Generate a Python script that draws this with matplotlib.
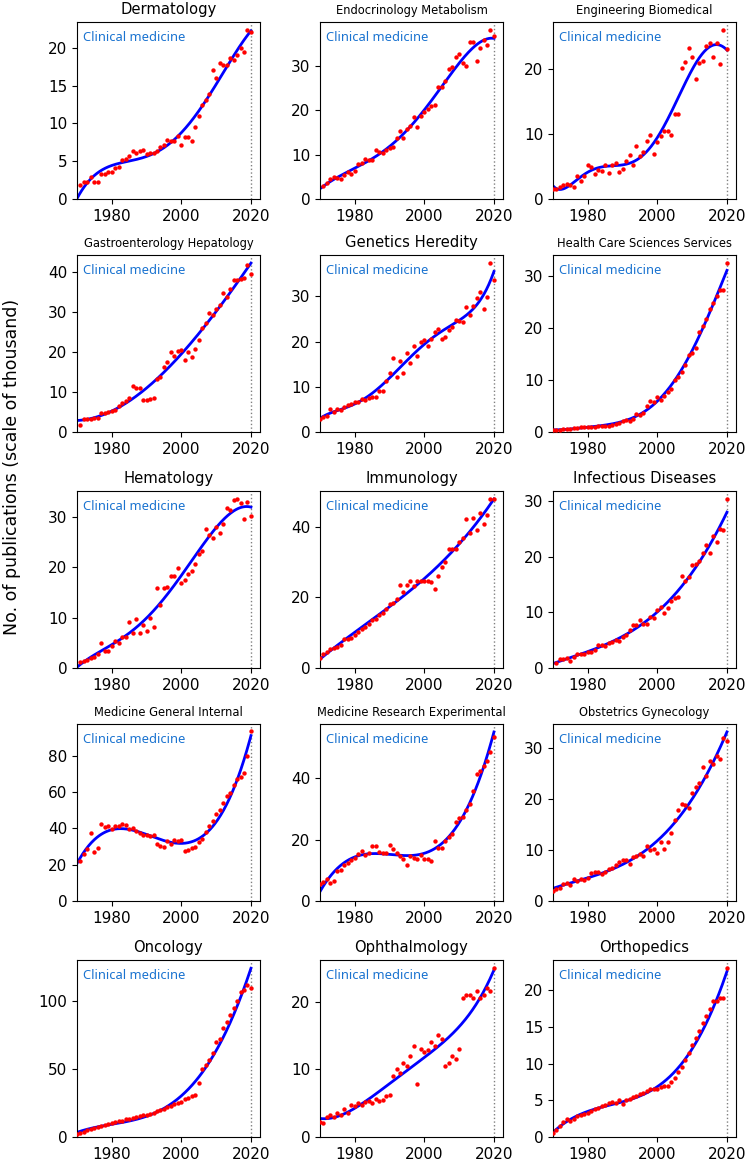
import matplotlib.pyplot as plt
import numpy as np

# publications per year (thousands), last value is 2020
dermatology = [1.9, 2.3, 2.25, 2.9, 2.2, 2.3, 3.3, 3.35, 3.6, 3.6,
               4.05, 4.2, 5.1, 5.3, 5.7, 6.3, 6.1, 6.3, 6.5, 5.9,
               6.1, 6.1, 6.4, 6.9, 7.2, 7.8, 7.7, 7.7, 8.3, 7.1,
               8.2, 8.2, 7.7, 9.5, 11.0, 12.4, 13.1, 13.9, 17.0, 16.0,
               18.0, 17.75, 17.75, 18.6, 18.4, 19.1, 20.0, 19.5, 22.3, 22.1]
endocrinology = [2.85, 3.5, 4.55, 4.85, 4.7, 4.5, 5.3, 6.0, 5.7, 6.2,
                 7.8, 8.1, 8.9, 8.7, 8.8, 11.0, 10.5, 10.3, 11.1, 11.4,
                 11.8, 13.7, 15.3, 13.7, 15.8, 16.5, 18.5, 16.2, 18.7, 19.5,
                 20.2, 21.0, 21.1, 25.1, 25.1, 26.5, 29.2, 29.6, 31.9, 32.6,
                 30.5, 29.9, 35.2, 35.4, 31.0, 34.0, 35.8, 34.6, 38.0, 36.6]
engineering = [1.5, 1.55, 1.85, 2.1, 2.25, 2.1, 1.9, 3.5, 2.8, 3.5,
               5.2, 4.9, 3.9, 4.45, 4.3, 5.3, 4.0, 5.3, 5.6, 4.1,
               4.6, 5.9, 6.8, 5.2, 8.1, 6.65, 7.2, 8.85, 9.9, 6.85,
               8.7, 9.7, 10.4, 10.5, 9.9, 13.0, 13.0, 20.2, 21.0, 23.3,
               21.9, 18.5, 20.95, 21.3, 23.6, 23.95, 21.9, 23.95, 20.8, 26.0,
               23.0]
gastro = [1.65, 3.3, 3.15, 3.3, 3.5, 3.55, 4.8, 4.65, 4.95, 5.2,
          5.55, 6.45, 7.2, 7.85, 8.45, 11.4, 11.0, 10.9, 8.1, 8.1,
          8.3, 8.5, 13.25, 13.8, 16.2, 17.5, 20.1, 19.05, 20.2, 20.45,
          18.0, 20.1, 18.8, 20.7, 22.95, 25.85, 27.1, 29.6, 29.3, 30.65,
          31.8, 34.6, 33.8, 35.8, 37.9, 37.9, 38.1, 38.4, 41.75, 39.35]
genetics = [2.8, 3.25, 3.45, 5.0, 4.4, 5.15, 4.85, 5.5, 5.9, 6.25,
            6.55, 6.6, 7.2, 7.0, 7.5, 7.7, 7.8, 9.1, 9.05, 11.3,
            13.1, 16.3, 12.2, 15.6, 12.95, 17.4, 15.35, 19.1, 16.7, 20.0,
            20.35, 19.1, 20.6, 22.0, 22.8, 20.5, 20.95, 22.5, 23.2, 24.85,
            24.55, 24.25, 27.65, 25.8, 27.8, 29.7, 30.9, 27.1, 29.9, 37.4,
            33.7]
health_care = [0.3, 0.4, 0.45, 0.5, 0.55, 0.6, 0.7, 0.8, 0.9, 0.95,
               1.0, 1.0, 1.05, 1.1, 1.15, 1.15, 1.2, 1.35, 1.55, 1.8,
               2.1, 2.4, 2.1, 2.5, 3.4, 3.2, 3.6, 4.9, 5.9, 5.8,
               6.8, 6.2, 7.0, 7.7, 8.3, 9.9, 10.6, 11.5, 12.9, 14.8,
               15.2, 16.2, 19.3, 20.4, 21.7, 23.6, 24.8, 26.2, 27.3, 27.3,
               32.4]
hematology = [1.2, 1.4, 1.5, 1.9, 2.2, 2.7, 4.9, 3.4, 3.3, 4.3,
              5.3, 4.9, 6.2, 6.1, 9.1, 7.0, 9.7, 7.0, 8.6, 7.4,
              10.0, 8.2, 15.8, 12.5, 15.8, 16.0, 18.2, 18.3, 19.8, 16.8,
              17.4, 18.6, 19.2, 20.6, 22.5, 23.2, 27.6, 26.3, 25.7, 28.0,
              26.7, 28.6, 31.7, 31.3, 33.2, 33.4, 32.6, 29.6, 32.9, 30.2]
immunology = [2.8, 4.1, 4.4, 5.5, 5.8, 6.0, 6.5, 8.2, 8.1, 8.6,
              9.2, 10.1, 11.1, 11.7, 12.4, 13.7, 13.8, 15.1, 15.7, 16.7,
              18.1, 18.5, 19.5, 23.5, 21.5, 23.5, 24.6, 23.1, 24.6, 24.6,
              24.7, 24.7, 24.3, 22.4, 26.0, 28.7, 29.9, 33.6, 33.8, 33.6,
              35.7, 36.7, 42.1, 38.2, 42.5, 39.0, 44.0, 40.8, 43.4, 47.8,
              47.7]
infectious = [0.9, 1.55, 1.55, 1.85, 1.3, 2.0, 2.5, 2.6, 2.6, 2.8,
              2.9, 3.3, 4.1, 4.1, 3.95, 4.55, 4.6, 5.1, 4.85, 5.6,
              5.9, 6.8, 7.7, 7.7, 8.7, 8.0, 8.0, 9.2, 9.0, 10.5,
              11.0, 9.9, 10.8, 12.0, 12.6, 12.75, 16.5, 15.6, 16.4, 18.5,
              18.7, 19.2, 20.7, 22.2, 20.7, 23.8, 22.7, 25.1, 24.8, 30.4]
med_general = [21.9, 26.1, 28.5, 37.3, 27.1, 29.3, 42.2, 40.6, 41.3, 39.5,
               41.3, 41.3, 42.6, 41.7, 39.5, 40.2, 38.4, 37.3, 36.6, 36.4,
               35.6, 36.4, 31.4, 30.3, 30.0, 33.3, 31.3, 33.5, 33.3, 33.5,
               27.6, 28.3, 29.3, 29.6, 32.7, 34.4, 38.0, 41.3, 43.9, 47.9,
               50.1, 53.9, 58.0, 59.4, 63.6, 67.1, 68.0, 70.6, 79.9, 93.8]
med_research = [5.7, 6.2, 7.2, 6.0, 6.65, 9.9, 10.1, 11.6, 12.5, 13.3,
                14.1, 15.4, 16.2, 14.9, 15.8, 17.9, 18.0, 16.0, 15.7, 15.8,
                18.3, 17.1, 15.7, 14.7, 13.7, 11.8, 14.8, 14.1, 13.7, 14.9,
                13.85, 13.7, 13.0, 19.7, 17.4, 17.4, 19.5, 20.9, 21.9, 25.7,
                27.2, 27.5, 29.8, 31.5, 35.8, 41.3, 42.3, 44.2, 45.7, 48.6,
                53.5]
obstetrics = [2.05, 2.3, 2.55, 3.3, 3.5, 3.05, 4.35, 3.85, 4.3, 4.1,
              4.55, 5.45, 5.6, 5.65, 5.2, 5.6, 6.2, 6.5, 7.0, 7.7,
              7.95, 7.95, 7.3, 8.65, 8.75, 9.15, 8.85, 10.7, 9.9, 10.2,
              9.5, 11.65, 10.2, 11.6, 13.25, 15.9, 17.85, 19.0, 18.9, 18.3,
              21.2, 22.3, 23.2, 26.2, 24.5, 27.45, 26.95, 28.4, 27.8, 31.9,
              31.35]
oncology = [2, 3, 4, 5, 6, 7, 7.5, 8, 9, 9.5,
            10, 11, 11.5, 12, 13, 13.5, 14, 15, 15.5, 16,
            16, 17, 18, 19, 20, 21, 22, 23, 24, 25,
            26, 28, 29, 30, 31, 40, 50, 53, 57, 62,
            70, 72, 80, 85, 90, 95, 100, 107, 108, 112,
            110]
ophthalmology = [2.2, 2.0, 3.0, 3.3, 3.0, 3.6, 3.2, 4.2, 3.5, 4.8,
                 4.6, 5.0, 4.7, 5.2, 5.3, 5.0, 5.6, 5.3, 5.5, 6.0,
                 6.2, 9.0, 10.0, 9.5, 11.0, 10.5, 12.0, 13.5, 7.8, 13.0,
                 12.5, 12.8, 14.0, 13.5, 15.0, 14.5, 10.5, 11.0, 12.0, 11.5,
                 13.0, 20.5, 21.0, 21.0, 20.5, 21.5, 20.5, 21.0, 22.0, 21.5,
                 25.0]
orthopedics = [0.5, 1.0, 1.5, 2.0, 2.4, 2.2, 2.5, 2.8, 3.0, 3.2,
               3.3, 3.6, 3.8, 4.0, 4.2, 4.3, 4.6, 4.8, 4.6, 5.0,
               4.5, 5.0, 5.2, 5.4, 5.6, 5.8, 6.0, 6.3, 6.5, 6.6,
               6.6, 6.8, 7.0, 7.0, 7.5, 8.0, 8.8, 9.5, 10.5, 11.5,
               12.5, 13.5, 14.5, 15.5, 16.5, 17.5, 18.5, 18.5, 19.0, 19.0,
               23.0]

titles = ["Dermatology", "Endocrinology Metabolism", "Engineering Biomedical",
          "Gastroenterology Hepatology", "Genetics Heredity", "Health Care Sciences Services",
          "Hematology", "Immunology", "Infectious Diseases",
          "Medicine General Internal", "Medicine Research Experimental", "Obstetrics Gynecology",
          "Oncology", "Ophthalmology", "Orthopedics"]
series = [dermatology, endocrinology, engineering,
          gastro, genetics, health_care,
          hematology, immunology, infectious,
          med_general, med_research, obstetrics,
          oncology, ophthalmology, orthopedics]
# polynomial degree of the trend line in each panel
fit_degree = [4, 5, 6,
              3, 5, 5,
              4, 3, 3,
              3, 3, 3,
              3, 5, 3]

W, H = 750, 1162
fig = plt.figure(figsize=(W / 100, H / 100), dpi=100)

col_left = [77, 320, 553]
row_top = [22, 255, 491, 724, 960]
ax_w, ax_h = 183, 177

for i in range(15):
    r, c = divmod(i, 3)
    ax = fig.add_axes([col_left[c] / W, 1 - (row_top[r] + ax_h) / H, ax_w / W, ax_h / H])
    vals = np.array(series[i])
    yrs = np.arange(2021 - len(vals), 2021)
    coef = np.polyfit((yrs - 1995) / 25, vals, fit_degree[i])
    xs = np.linspace(1970, 2020, 300)
    ax.plot(xs, np.polyval(coef, (xs - 1995) / 25), color="blue", lw=2, zorder=2)
    ax.scatter(yrs, vals, s=10, color="red", zorder=3, linewidths=0)
    ax.axvline(2020, color="gray", ls=":", lw=1, zorder=1)
    ax.set_ylim(bottom=0)
    ax.set_xlim(1970, 2022.6)
    ax.set_xticks([1980, 2000, 2020])
    ax.tick_params(labelsize=11)
    fs = 8.3 if len(titles[i]) > 20 else 10.6
    ax.set_title(titles[i], fontsize=fs)
    ax.text(0.035, 0.915, "Clinical medicine", transform=ax.transAxes,
            color="#1a73d0", fontsize=9.3, family="Noto Sans", va="center")

fig.text(0.016, 0.598, "No. of publications (scale of thousand)", rotation=90,
         fontsize=12.5, ha="center", va="center")

fig.savefig("out.png", dpi=100)
